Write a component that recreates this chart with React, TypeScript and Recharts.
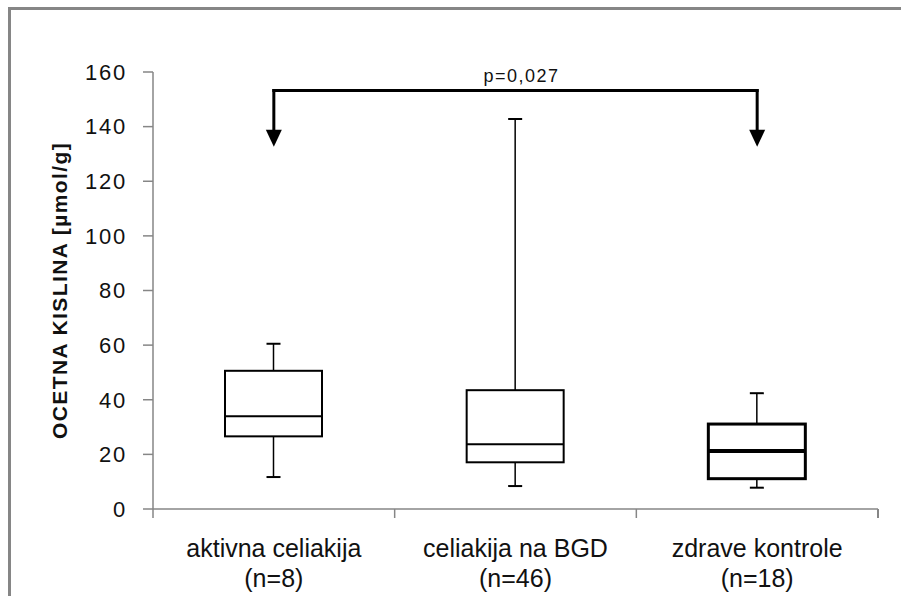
import React from 'react';
import { ComposedChart, Bar, XAxis, YAxis, ReferenceLine, Label } from 'recharts';

// ---- data ----
const categories = ['aktivna celiakija', 'celiakija na BGD', 'zdrave kontrole'];
const sampleSizes = ['(n=8)', '(n=46)', '(n=18)'];
const minValues = [11.7, 8.4, 7.8];
const q1Values = [26.6, 17.1, 11.1];
const medianValues = [34, 23.7, 21.2];
const q3Values = [50.6, 43.5, 31.1];
const maxValues = [60.5, 142.8, 42.4];
const yTicks = [0, 20, 40, 60, 80, 100, 120, 140, 160];
const yAxisTitle = 'OCETNA KISLINA [µmol/g]';
const pLabel = 'p=0,027';
const bracketLevel = 153.2;
const arrowTipLevel = 132.6;

// ---- styles ----
const CHART_W = 901;
const CHART_H = 596;
const MARGIN = { top: 72, right: 23, left: 0, bottom: 0 };
const Y_AXIS_W = 153;
const X_AXIS_H = 87;
const PLOT_W = CHART_W - MARGIN.right - MARGIN.left - Y_AXIS_W;
const AXIS_COLOR = '#868686';
const TEXT_COLOR = '#111';
const FONT = "'Liberation Sans', Arial, sans-serif";
const boxStroke = [2, 2, 3];
const medianStroke = [2, 2, 4];

const data = categories.map((name, i) => ({
  name,
  n: sampleSizes[i],
  min: minValues[i],
  q1: q1Values[i],
  median: medianValues[i],
  q3: q3Values[i],
  max: maxValues[i],
}));

const BoxShape = (props: any) => {
  const { x, y, width, height, payload, index } = props;
  if (!payload) return null;
  const top = Math.min(y, y + height);
  const bottom = Math.max(y, y + height);
  const span = payload.max - payload.min;
  const py = (v: number) => bottom - ((v - payload.min) / span) * (bottom - top);
  const cx = x + width / 2;
  const cap = 7;
  const sw = boxStroke[index] ?? 2;
  const mw = medianStroke[index] ?? 2;
  return (
    <g>
      <line x1={cx} x2={cx} y1={py(payload.max)} y2={py(payload.q3)} stroke="#000" strokeWidth={1.5} />
      <line x1={cx} x2={cx} y1={py(payload.q1)} y2={py(payload.min)} stroke="#000" strokeWidth={1.5} />
      <line x1={cx - cap} x2={cx + cap} y1={py(payload.max)} y2={py(payload.max)} stroke="#000" strokeWidth={2} />
      <line x1={cx - cap} x2={cx + cap} y1={py(payload.min)} y2={py(payload.min)} stroke="#000" strokeWidth={2} />
      <rect
        x={x}
        y={py(payload.q3)}
        width={width}
        height={py(payload.q1) - py(payload.q3)}
        fill="#fff"
        stroke="#000"
        strokeWidth={sw}
      />
      <line x1={x} x2={x + width} y1={py(payload.median)} y2={py(payload.median)} stroke="#000" strokeWidth={mw} />
    </g>
  );
};

const XTick = (props: any) => {
  const { x, y, payload, index } = props;
  const band = PLOT_W / categories.length;
  const i = categories.indexOf(payload.value);
  return (
    <g>
      <line x1={x - band / 2} x2={x - band / 2} y1={y} y2={y + 9} stroke={AXIS_COLOR} strokeWidth={1.5} />
      {index === categories.length - 1 && (
        <line x1={x + band / 2} x2={x + band / 2} y1={y} y2={y + 9} stroke={AXIS_COLOR} strokeWidth={2} />
      )}
      <text x={x} y={y + 48} textAnchor="middle" fill={TEXT_COLOR} fontSize={25} fontFamily={FONT}>
        {payload.value}
      </text>
      <text x={x} y={y + 78} textAnchor="middle" fill={TEXT_COLOR} fontSize={25} fontFamily={FONT}>
        {sampleSizes[i]}
      </text>
    </g>
  );
};

const ArrowShape = (props: any) => {
  const { x1, y1, x2, y2 } = props;
  const head = 17;
  const half = 8;
  return (
    <g>
      <line x1={x1} x2={x2} y1={y1 - 1.5} y2={y2 - head + 2} stroke="#000" strokeWidth={3} />
      <polygon points={`${x2 - half},${y2 - head} ${x2 + half},${y2 - head} ${x2},${y2}`} fill="#000" />
    </g>
  );
};

const YTitle = (props: any) => {
  const vb = props.viewBox || {};
  const cx = 59;
  const cy = (vb.y ?? 72) + (vb.height ?? 437) / 2;
  return (
    <text
      x={cx}
      y={cy}
      transform={`rotate(-90, ${cx}, ${cy})`}
      textAnchor="middle"
      dominantBaseline="central"
      fill={TEXT_COLOR}
      fontSize={21}
      fontWeight="bold"
      letterSpacing={1.4}
      fontFamily={FONT}
    >
      {yAxisTitle}
    </text>
  );
};

export default function App() {
  return (
    <div
      style={{
        position: 'absolute',
        left: 0,
        top: 0,
        width: CHART_W,
        height: CHART_H,
        background: '#fff',
        overflow: 'hidden',
      }}
    >
      <svg width={CHART_W} height={CHART_H} style={{ position: 'absolute', left: 0, top: 0 }}>
        <path d={`M9.5,${CHART_H} V8.5 H${CHART_W}`} fill="none" stroke={AXIS_COLOR} strokeWidth={3} />
      </svg>
      <div style={{ position: 'absolute', left: 0, top: 0 }}>
        <ComposedChart width={CHART_W} height={CHART_H} data={data} margin={MARGIN}>
          <XAxis
            dataKey="name"
            height={X_AXIS_H}
            axisLine={{ stroke: AXIS_COLOR, strokeWidth: 1.5 }}
            tickLine={false}
            tickSize={0}
            tickMargin={0}
            interval={0}
            tick={<XTick />}
          />
          <YAxis
            width={Y_AXIS_W}
            domain={[0, 160]}
            ticks={yTicks}
            allowDataOverflow
            axisLine={{ stroke: AXIS_COLOR, strokeWidth: 1.5 }}
            tickLine={{ stroke: AXIS_COLOR, strokeWidth: 1.5 }}
            tickSize={10}
            tickMargin={16}
            tick={{ fill: TEXT_COLOR, fontSize: 22, fontFamily: FONT, letterSpacing: 1.8 }}
          >
            <Label content={<YTitle />} />
          </YAxis>
          <Bar
            dataKey={(d: any) => [d.min, d.max]}
            barSize={97}
            shape={<BoxShape />}
            isAnimationActive={false}
          />
          <ReferenceLine
            segment={[
              { x: categories[0], y: bracketLevel },
              { x: categories[2], y: bracketLevel },
            ]}
            stroke="#000"
            strokeWidth={3}
            strokeLinecap="square"
            ifOverflow="visible"
          >
            <Label value={pLabel} position="top" offset={9} fill={TEXT_COLOR} fontSize={18} fontFamily={FONT} letterSpacing={1.5} dx={6} />
          </ReferenceLine>
          <ReferenceLine
            segment={[
              { x: categories[0], y: bracketLevel },
              { x: categories[0], y: arrowTipLevel },
            ]}
            shape={<ArrowShape />}
            ifOverflow="visible"
          />
          <ReferenceLine
            segment={[
              { x: categories[2], y: bracketLevel },
              { x: categories[2], y: arrowTipLevel },
            ]}
            shape={<ArrowShape />}
            ifOverflow="visible"
          />
        </ComposedChart>
      </div>
    </div>
  );
}
